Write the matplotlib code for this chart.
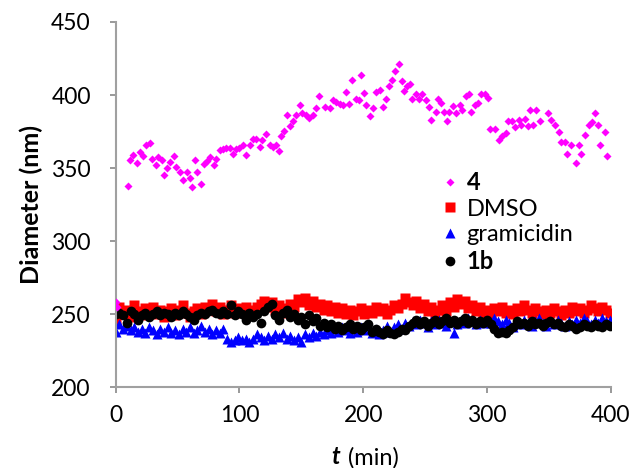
import matplotlib
matplotlib.use("Agg")
import matplotlib.pyplot as plt

plt.rcParams['font.family'] = ['Lato', 'DejaVu Sans']

# compound 4 (magenta diamonds): time (min), diameter (nm)
t_4 = [0, 1, 10, 11.3, 14, 17, 19.4, 22, 24.8, 27.5, 29.4, 32.3, 34, 37, 38.8, 41.5,
       44, 47, 49, 51.7, 54.4, 57.6, 59.8, 62, 64, 66, 69, 71, 73.8, 76, 79, 81.3,
       84, 86.7, 89.4, 92, 94.8, 97.5, 100, 102.9, 105.6, 108.3, 111, 113.7, 116.4,
       118.5, 121.8, 124.4, 127, 129.3, 131.7, 133.3, 135.8, 138.4, 141.2, 143.3,
       146, 148.7, 150.9, 153.5, 156.2, 159, 161.6, 164.3, 168.9, 173, 175.6, 178.3,
       181, 183.7, 185.9, 188.5, 191.3, 194.5, 196.6, 198.5, 201, 202.6, 205.8, 208,
       210.6, 213.3, 216, 218.2, 220.9, 223.3, 226, 228.7, 231.4, 233, 235.7, 237.6,
       239.4, 242.4, 245.1, 247.8, 250.5, 253, 255, 258.6, 260, 263.2, 265.3, 268,
       269.4, 272.6, 275.3, 278, 280, 282.8, 285.5, 287.4, 290, 292.8, 295.5, 298,
       300.9, 302.2, 306.3, 309.7, 312.5, 315, 317, 319.8, 322.4, 326, 327.8, 330.5,
       333.2, 334.5, 337.2, 339.4, 342.6, 349.3, 352, 354.7, 358, 359.6, 362.8,
       364.7, 368.2, 371.7, 374.4, 376.3, 379.5, 382.5, 385.2, 387, 389.8, 391.7,
       395.2, 397]
d_4 = [258, 255, 338, 355.5, 359, 353.5, 361, 358, 365.5, 367, 356.5, 352, 357.5,
       355.5, 345, 350, 354, 358, 351, 347, 342, 347, 343.5, 337, 355.5, 347.5, 339,
       353, 355, 357.5, 352, 356.5, 362, 363, 364, 363.5, 359.5, 363, 363.5, 366,
       359, 366, 370, 370, 364.5, 369, 373, 366, 364.5, 366, 361.5, 372, 375.5, 386,
       379, 382.5, 386, 393, 387.5, 386, 384.5, 386, 391, 399, 392, 391, 396.5,
       395.5, 394, 393, 402, 394, 410.5, 397.5, 396.5, 413.5, 401.5, 393, 385.5, 391,
       402, 403.5, 392, 397, 406, 410.5, 416.5, 421.5, 409.5, 403, 406.5, 407.5,
       397.5, 401, 397.5, 400.5, 396.5, 392, 383, 388.5, 397, 394.5, 388.5, 382.5,
       388.5, 392.5, 388, 393, 390, 399.5, 401, 388.5, 393, 394.5, 400.5, 401, 398,
       377, 376.5, 369, 372, 374, 382.5, 382.5, 378, 383, 379.5, 383.5, 379, 389.5,
       379.5, 389.5, 382.5, 387.5, 383, 379.5, 375, 368, 368, 359.5, 366, 353.5, 366,
       359.5, 372.5, 379.5, 381.5, 387.5, 379.5, 366, 375, 358]

# DMSO, gramicidin and 1b share one sampling time list (min)
t_ctrl = [0, 3, 6, 9, 12, 15, 18, 21, 24, 27, 30, 33, 36, 39, 42, 45, 48, 51, 54, 57,
          60, 63, 66, 69, 72, 75, 78, 81, 84, 87, 90, 93, 96, 99, 102, 105, 108, 111,
          114, 117, 120, 123, 126, 129, 132, 135, 138, 141, 144, 147, 150, 153, 156,
          159, 162, 165, 168, 171, 174, 177, 180, 183, 186, 189, 192, 195, 198, 201,
          204, 207, 210, 213, 216, 219, 222, 225, 228, 231, 234, 237, 240, 243, 246,
          249, 252, 255, 258, 261, 264, 267, 270, 273, 276, 279, 282, 285, 288, 291,
          294, 297, 300, 303, 306, 309, 312, 315, 318, 321, 324, 327, 330, 333, 336,
          339, 342, 345, 348, 351, 354, 357, 360, 363, 366, 369, 372, 375, 378, 381,
          384, 387, 390, 393, 396, 399]

d_dmso = [244, 255, 250, 253, 248, 256, 252, 249, 254, 251,
          255, 250, 253, 248, 252, 254, 249, 253, 256, 251,
          248, 252, 254, 250, 255, 253, 257, 252, 255, 250,
          253, 256, 251, 254, 252, 255, 250, 253, 255, 257,
          259, 255, 258, 253, 256, 254, 251, 257, 255, 260,
          258, 261, 256, 259, 255, 257, 253, 256, 252, 255,
          251, 254, 250, 253, 249, 252, 254, 250, 253, 251,
          255, 252, 254, 250, 253, 256, 254, 257, 261, 258,
          256, 259, 254, 257, 252, 255, 251, 253, 256, 252,
          258, 255, 260, 257, 259, 254, 256, 252, 255, 251,
          253, 250, 254, 252, 255, 251, 253, 250, 254, 252,
          256, 253, 251, 254, 252, 250, 253, 251, 254, 252,
          249, 253, 251, 255, 252, 254, 251, 253, 256, 254,
          252, 255, 253, 251]

d_gram = [238, 243, 240, 242, 239, 241, 238, 240, 237, 241,
          239, 236, 240, 238, 241, 237, 239, 236, 240, 238,
          241, 237, 239, 242, 238, 240, 236, 239, 237, 240,
          233, 231, 232, 234, 232, 233, 231, 233, 236, 234,
          232, 235, 233, 236, 234, 237, 233, 235, 232, 234,
          231, 236, 234, 237, 235, 238, 236, 239, 237, 240,
          238, 241, 239, 237, 240, 238, 241, 239, 242, 237,
          240, 236, 239, 242, 238, 241, 243, 240, 244, 242,
          245, 243, 246, 244, 241, 245, 243, 246, 244, 242,
          245, 237, 243, 246, 244, 247, 245, 243, 246, 244,
          246, 244, 247, 245, 243, 246, 244, 241, 245, 243,
          246, 244, 242, 245, 247, 244, 242, 245, 243, 246,
          244, 242, 245, 243, 246, 244, 247, 245, 243, 246,
          244, 247, 245, 246]

d_1b = [250, 251, 249, 244, 252, 250, 246, 249, 251, 248,
        250, 252, 249, 251, 250, 248, 251, 249, 252, 250,
        248, 246, 249, 251, 250, 252, 253, 251, 250, 252,
        250, 256, 249, 252, 250, 246, 251, 248, 250, 244,
        252, 255, 257, 249, 246, 251, 253, 248, 250, 246,
        248, 243, 249, 245, 247, 242, 244, 241, 243, 240,
        242, 239, 241, 243, 240, 242, 239, 241, 243, 238,
        240, 238, 236, 239, 237, 236, 238, 240, 239, 242,
        244, 246, 243, 245, 242, 244, 246, 243, 245, 247,
        244, 246, 243, 245, 247, 244, 246, 243, 245, 244,
        246, 243, 240, 237, 238, 237, 239, 241, 245, 243,
        244, 242, 245, 243, 244, 242, 244, 245, 243, 244,
        242, 241, 243, 242, 240, 241, 243, 242, 241, 243,
        242, 241, 243, 242]

fig, ax = plt.subplots(figsize=(6.29, 4.68), dpi=100)
fig.subplots_adjust(left=0.184, right=0.971, top=0.953, bottom=0.173)

ax.plot(t_4, d_4, 'D', color='#FF00FF', markersize=4.5, mec='none', label='4', zorder=3)
ax.plot(t_ctrl, d_dmso, 's', color='#FF0000', markersize=6.5, mec='none', label='DMSO')
ax.plot(t_ctrl, d_gram, '^', color='#0000FF', markersize=6.5, mec='none', label='gramicidin')
ax.plot(t_ctrl, d_1b, 'o', color='black', markersize=7, mec='none', label='1b')

ax.set_xlim(0, 400)
ax.set_ylim(200, 450)
ax.set_xticks([0, 100, 200, 300, 400])
ax.set_yticks([200, 250, 300, 350, 400, 450])

for s in ['top', 'right']:
    ax.spines[s].set_visible(False)
for s in ['left', 'bottom']:
    ax.spines[s].set_color('#A0A0A0')
    ax.spines[s].set_linewidth(1.5)
ax.tick_params(axis='both', colors='#888888', labelcolor='black', labelsize=16.5,
               length=4, width=1.2)
ax.tick_params(axis='y', pad=14)
ax.tick_params(axis='x', pad=9)

ax.set_ylabel('Diameter (nm)', fontsize=18, fontweight='bold', labelpad=6)
fig.text(0.541, 0.008, 't', fontsize=17, fontweight='bold', style='italic', ha='right')
fig.text(0.544, 0.008, ' (min)', fontsize=17, ha='left')

leg = ax.legend(loc='upper left', bbox_to_anchor=(0.642, 0.618), frameon=False,
                fontsize=17, handlelength=0.6, handletextpad=0.4, labelspacing=0.2,
                borderaxespad=0)
leg.get_texts()[0].set_fontweight('bold')
leg.get_texts()[3].set_fontweight('bold')

fig.savefig('out.png', dpi=100)
